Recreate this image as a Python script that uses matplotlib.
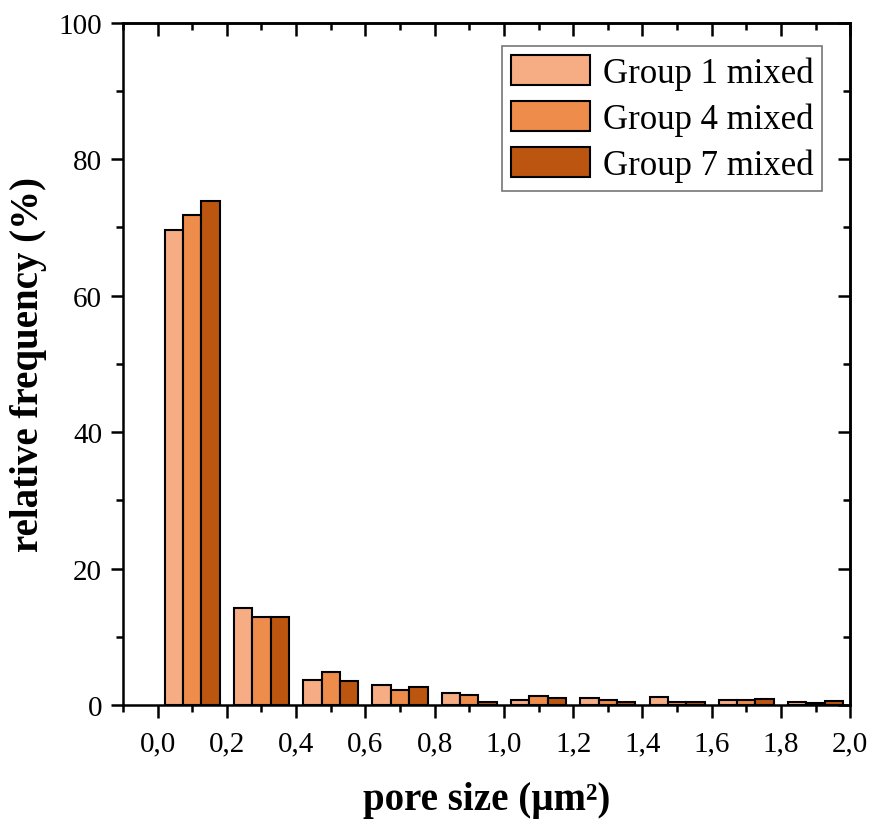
import matplotlib
matplotlib.use("Agg")
import matplotlib.pyplot as plt
import numpy as np
from matplotlib.ticker import MultipleLocator, FuncFormatter

# bin centres (pore size, um^2) and relative frequencies (%)
bins = [0.1, 0.3, 0.5, 0.7, 0.9, 1.1, 1.3, 1.5, 1.7, 1.9]
group1 = [69.6, 14.2, 3.7, 3.0, 1.8, 0.8, 1.0, 1.2, 0.7, 0.4]
group4 = [71.8, 12.9, 4.8, 2.2, 1.4, 1.3, 0.7, 0.5, 0.8, 0.3]
group7 = [73.9, 12.9, 3.5, 2.6, 0.5, 1.0, 0.5, 0.4, 0.9, 0.6]
labels = ["Group 1 mixed", "Group 4 mixed", "Group 7 mixed"]
colors = ["#F6AD84", "#EE8C4B", "#BC5510"]

plt.rcParams["font.family"] = ["Liberation Serif", "DejaVu Serif"]

fig = plt.figure(figsize=(8.72, 8.2), dpi=100)
ax = fig.add_axes([0.141, 0.139, 0.834, 0.832])

w = 0.053
x = np.array(bins)
for i, (vals, lab, c) in enumerate(zip([group1, group4, group7], labels, colors)):
    ax.bar(x + (i - 1) * w, vals, width=w, color=c, edgecolor="black",
           linewidth=1.5, label=lab, zorder=2)

ax.set_xlim(-0.1, 2.0)
ax.set_ylim(0, 100)
ax.xaxis.set_major_locator(MultipleLocator(0.2))
ax.xaxis.set_minor_locator(MultipleLocator(0.1))
ax.yaxis.set_major_locator(MultipleLocator(20))
ax.yaxis.set_minor_locator(MultipleLocator(10))
ax.xaxis.set_major_formatter(FuncFormatter(lambda v, p: f"{v:.1f}".replace(".", ",")))

ax.tick_params(axis="both", which="major", length=9, width=1.8, labelsize=21)
ax.tick_params(axis="both", which="minor", length=5, width=1.8)
ax.tick_params(axis="x", which="major", pad=9)
ax.tick_params(axis="y", which="major", pad=6)
# inner ticks on top and right
sec_x = ax.secondary_xaxis("top")
sec_x.xaxis.set_major_locator(MultipleLocator(0.2))
sec_x.xaxis.set_minor_locator(MultipleLocator(0.1))
sec_x.tick_params(which="both", direction="in", labeltop=False, width=1.8)
sec_x.tick_params(which="major", length=9)
sec_x.tick_params(which="minor", length=5)
sec_y = ax.secondary_yaxis("right")
sec_y.yaxis.set_major_locator(MultipleLocator(20))
sec_y.yaxis.set_minor_locator(MultipleLocator(10))
sec_y.tick_params(which="both", direction="in", labelright=False, width=1.8)
sec_y.tick_params(which="major", length=9)
sec_y.tick_params(which="minor", length=5)

for s in ax.spines.values():
    s.set_linewidth(1.8)
sec_x.spines["top"].set_linewidth(1.8)
sec_y.spines["right"].set_linewidth(1.8)

ax.set_xlabel("pore size (µm²)", fontsize=28, fontweight="bold", labelpad=18)
ax.set_ylabel("relative frequency (%)", fontsize=28, fontweight="bold", labelpad=8)

leg = ax.legend(loc="upper right", bbox_to_anchor=(0.961, 0.966), fontsize=25,
                frameon=True, fancybox=False, edgecolor="#555555",
                handlelength=2.3, handleheight=0.95, labelspacing=0.33,
                handletextpad=0.35, borderpad=0.25, borderaxespad=0.0)
leg.get_frame().set_linewidth(1.2)

fig.savefig("out.png", dpi=100)
